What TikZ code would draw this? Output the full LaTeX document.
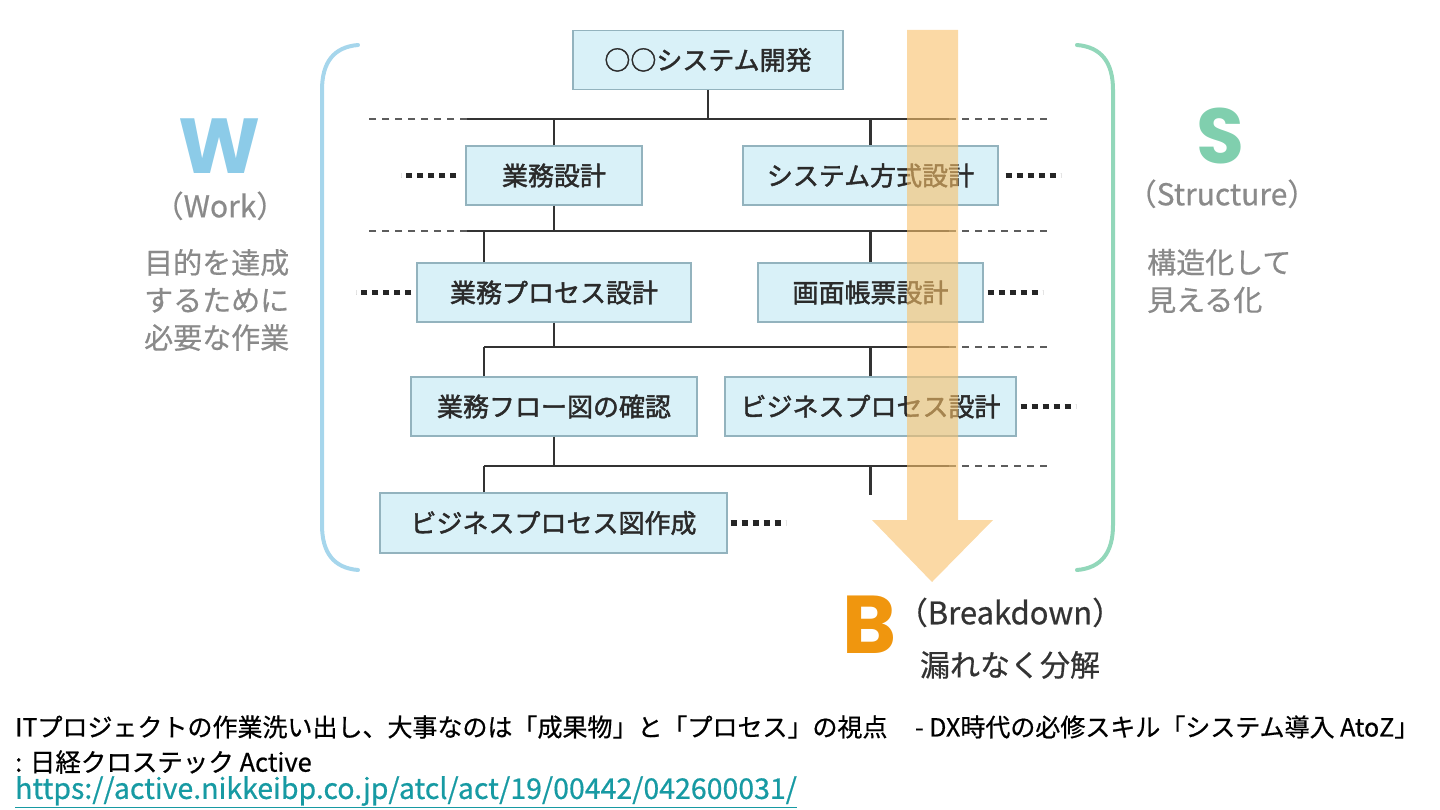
\documentclass[tikz,border=0pt]{standalone}
\usepackage{fontspec}
\usepackage{tikz}
\usetikzlibrary{calc}
\newfontfamily\jp{Noto Sans CJK JP}
\newfontfamily\jpm{Noto Sans CJK JP}[FakeBold=1.6]
\newfontfamily\jps{Noto Sans CJK JP}[FakeBold=0.6]
\newfontfamily\ltr{Poppins}
\definecolor{boxfill}{HTML}{D9F1F8}
\definecolor{boxline}{HTML}{93B3BE}
\definecolor{boxtext}{HTML}{2A2A2A}
\definecolor{treeline}{HTML}{333333}
\definecolor{wblue}{HTML}{A6D6EC}
\definecolor{wletter}{HTML}{8CCBE8}
\definecolor{sgreen}{HTML}{92D7BA}
\definecolor{sletter}{HTML}{80CFAE}
\definecolor{graytext}{HTML}{8A8A8A}
\definecolor{arrowfill}{HTML}{F8C069}
\definecolor{bletter}{HTML}{F0960E}
\definecolor{linkcol}{HTML}{179AA3}

\begin{document}
\begin{tikzpicture}[x=1pt,y=-1pt,
  box/.style={draw=boxline,fill=boxfill,line width=1.4pt,inner sep=0pt,minimum height=59pt,
    text=boxtext,font=\jpm\fontsize{26}{30}\selectfont},
  tree/.style={line width=2.6pt,draw=treeline},
  ext/.style={line width=2.2pt,draw=treeline!80,dash pattern=on 7pt off 6pt},
  dots/.style={line width=5.5pt,draw=black!85,dash pattern=on 6pt off 5pt},
  brace/.style={line width=4pt,line cap=round},
  big/.style={inner sep=0pt,text height=56pt,text depth=0pt,font=\ltr\bfseries\fontsize{78}{78}\selectfont},
  sub/.style={inner sep=0pt,text height=.8em,text depth=.15em,text=graytext,font=\jps\fontsize{30}{32}\selectfont},
  note/.style={inner sep=0pt,text=graytext,font=\jps\fontsize{29}{37.5}\selectfont,align=left,anchor=west},
  foot/.style={anchor=west,inner sep=0pt,font=\jps\fontsize{25}{28}\selectfont}]
\useasboundingbox (0,0) rectangle (1440,810);

%% boxes of the breakdown
\node[box,minimum width=270pt] (sys) at (708,60) {○○システム開発};
\node[box,minimum width=176pt] (gyomu) at (554,175.5) {業務設計};
\node[box,minimum width=255pt] (hoshiki) at (870.5,175.5) {システム方式設計};
\node[box,minimum width=274pt] (bproc) at (554,292.5) {業務プロセス設計};
\node[box,minimum width=225pt] (gamen) at (870.5,292.5) {画面帳票設計};
\node[box,minimum width=286pt] (flow) at (554,406.5) {業務フロー図の確認};
\node[box,minimum width=291pt] (bizproc) at (870.5,406.5) {ビジネスプロセス設計};
\node[box,minimum width=347pt,minimum height=60pt] (bizzu) at (553.5,523) {ビジネスプロセス図作成};

%% "bNw" = start of bus line N, "bNe" = end of solid part, "bNx" = end of dashes
\foreach \lv/\y/\xa in {1/119/467, 2/231/467, 3/347/484, 4/466/484} {
  \coordinate (b\lv w) at (\xa,\y);
  \coordinate (b\lv e) at (949,\y);
  \coordinate (b\lv x) at (1047,\y);
  \draw[tree] (b\lv w) -- (b\lv e);
  \draw[ext] (b\lv e) -- (b\lv x);
}
\coordinate (b1l) at (368,119);
\coordinate (b2l) at (368,231);
\draw[ext] (b1w) -- (b1l);
\draw[ext] (b2w) -- (b2l);

\draw[tree] (sys.south) -- (sys.south |- b1w);
\draw[tree] (gyomu.north) -- (gyomu.north |- b1w);
\draw[tree] (hoshiki.north) -- (hoshiki.north |- b1w);
\draw[tree] (gyomu.south) -- (gyomu.south |- b2w);
\draw[tree] (bproc.north -| b3w) -- (b2w -| b3w);
\draw[tree] (gamen.north) -- (gamen.north |- b2w);
\draw[tree] (bproc.south) -- (bproc.south |- b3w);
\draw[tree] (flow.north -| b3w) -- (b3w);
\draw[tree] (bizproc.north) -- (bizproc.north |- b3w);
\draw[tree] (flow.south) -- (flow.south |- b4w);
\draw[tree] (bizzu.north -| b4w) -- (b4w);
\draw[tree] (bizproc.south |- b4w) -- ++(0,29);

%% "......" beside the boxes
\draw[dots] ([xshift=-9pt]gyomu.west) -- ++(-55,0);
\draw[dots] ([xshift=7pt]hoshiki.east) -- ++(55,0);
\draw[dots] ([xshift=-5pt]bproc.west) -- ++(-55,0);
\draw[dots] ([xshift=4pt]gamen.east) -- ++(55,0);
\draw[dots] ([xshift=4pt]bizproc.east) -- ++(55,0);
\draw[dots] ([xshift=3pt]bizzu.east) -- ++(55,0);

%% arrow for B
\fill[arrowfill,opacity=.6] (907,30) -- (958,30) -- (958,520) -- (993,520)
  -- (932,582) -- (872,520) -- (907,520) -- cycle;

%% brackets
\draw[brace,wblue] (358,45) .. controls (334,47) and (322,62) .. (322,90)
  -- (322,525) .. controls (322,553) and (334,568) .. (358,570);
\draw[brace,sgreen] (1077,45) .. controls (1101,47) and (1113,62) .. (1113,90)
  -- (1113,525) .. controls (1113,553) and (1101,568) .. (1077,570);

%% W / S / B
\node[big,text=wletter] (w) at (220,146) {W};
\node[sub] (work) at (220,214) {（Work）};
\node[note] (wnote) at (144,300) {目的を達成\\するために\\必要な作業};

\node[big,text=sletter] (s) at (1220,136) {S};
\node[sub] (struct) at (1222,202) {（Structure）};
\node[note] (snote) at (1147,281) {構造化して\\見える化};

\node[big,text=bletter,text height=59pt,font=\ltr\bfseries\fontsize{82}{82}\selectfont] (b) at (870,624) {B};
\node[sub,text=black!80,font=\jps\fontsize{31}{32}\selectfont] (brk) at (1010,621) {（Breakdown）};
\node[sub,text=black!80] (bnote) at (1010,673) {漏れなく分解};

%% source
\node[foot] (src1) at (15,727) {ITプロジェクトの作業洗い出し、大事なのは「成果物」と「プロセス」の視点\hspace{1.1em}- DX時代の必修スキル「システム導入 AtoZ」};
\node[foot,font=\jps\fontsize{25.5}{28}\selectfont] (src2) at (15,762) {: 日経クロステック Active};
\node[foot,text=linkcol,font=\jps\fontsize{28.5}{30}\selectfont] (src3) at (15,792) {\underline{https://active.nikkeibp.co.jp/atcl/act/19/00442/042600031/}};
\end{tikzpicture}
\end{document}
